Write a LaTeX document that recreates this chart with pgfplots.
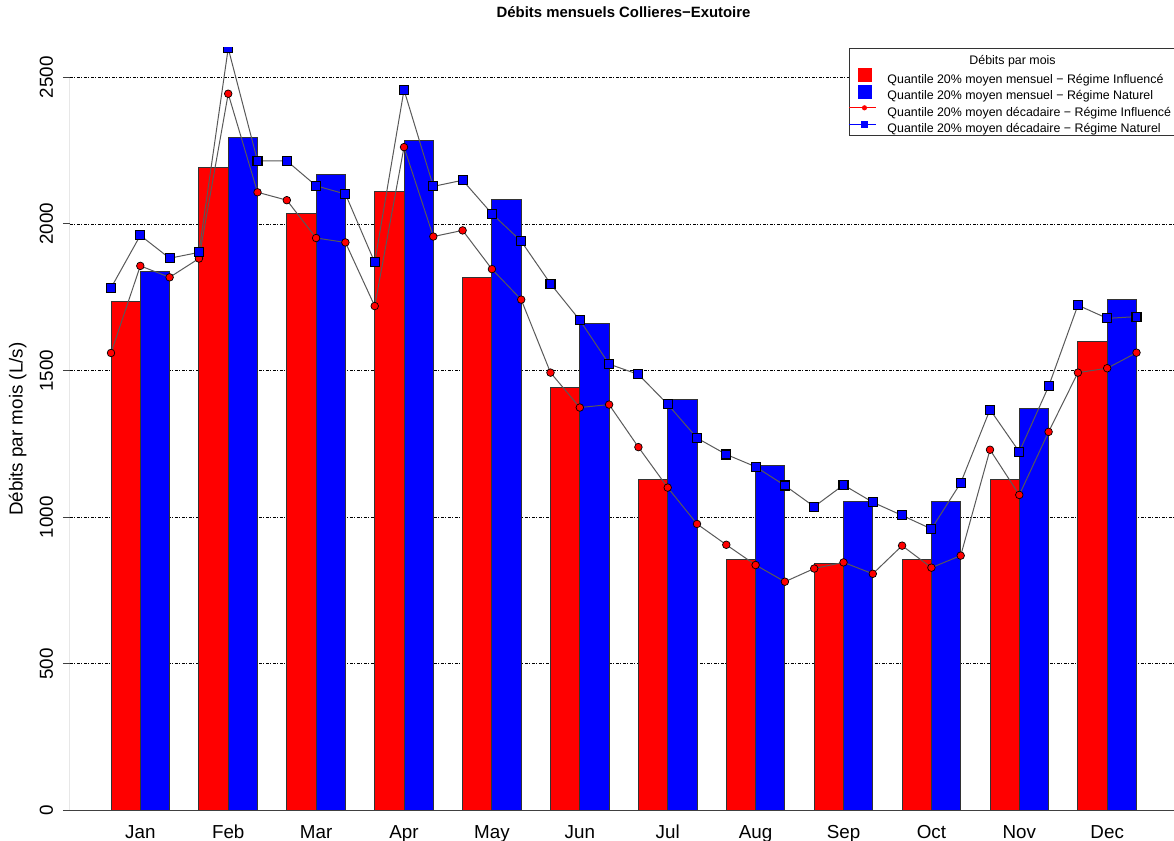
\documentclass[border=0pt]{standalone}
\usepackage{fontspec}
\setmainfont{Liberation Sans}
\usepackage{pgfplots}
\usepackage{pgfplotstable}
\pgfplotsset{compat=1.18}

\pgfplotstableread{
x y
1.5 1737
4.5 2192
7.5 2034
10.5 2109
13.5 1816
16.5 1443
19.5 1127
22.5 856
25.5 843
28.5 856
31.5 1127
34.5 1599
}\monthinf
\pgfplotstableread{
x y
2.5 1838
5.5 2295
8.5 2170
11.5 2286
14.5 2083
17.5 1662
20.5 1402
23.5 1177
26.5 1053
29.5 1053
32.5 1372
35.5 1744
}\monthnat
\pgfplotstableread{
x y
1 1560
2 1857
3 1818
4 1882
5 2444
6 2108
7 2081
8 1952
9 1937
10 1720
11 2262
12 1957
13 1978
14 1846
15 1742
16 1493
17 1374
18 1384
19 1239
20 1101
21 977
22 906
23 837
24 780
25 825
26 846
27 807
28 903
29 828
30 869
31 1230
32 1076
33 1291
34 1493
35 1508
36 1561
}\decinf
\pgfplotstableread{
x y
1 1782
2 1961
3 1883
4 1903
5 2599
6 2215
7 2215
8 2130
9 2102
10 1869
11 2457
12 2128
13 2149
14 2035
15 1941
16 1796
17 1672
18 1522
19 1487
20 1385
21 1270
22 1214
23 1172
24 1108
25 1036
26 1110
27 1051
28 1006
29 960
30 1117
31 1367
32 1223
33 1446
34 1723
35 1678
36 1684
}\decnat

\begin{document}
\begin{tikzpicture}
\begin{axis}[
  scale only axis, width=1104pt, height=762.5pt,
  xmin=-0.4, xmax=37.28, ymin=0, ymax=2600,
  axis lines*=left, axis line style={draw=none},
  clip marker paths=true,
  xtick={2,5,...,35},
  xticklabels={Jan,Feb,Mar,Apr,May,Jun,Jul,Aug,Sep,Oct,Nov,Dec},
  xtick style={draw=none},
  ytick={0,500,...,2500},
  ytick style={draw=black!75, line width=1pt},
  tick align=outside, major tick length=7pt,
  ymajorgrids,
  grid style={black, line width=0.8pt, dash pattern=on 3pt off 1.5pt on 1pt off 1.5pt},
  /pgf/number format/1000 sep={},
  /pgf/number format/assume math mode=true,
  tick label style={font=\fontsize{18.8}{20}\selectfont},
  yticklabel style={xshift=-10pt, rotate=90, anchor=base, inner sep=0pt},
  xticklabel style={anchor=base, inner sep=0pt, yshift=-21pt},
  title={Débits mensuels Collieres−Exutoire},
  title style={at={(axis description cs:0.5014,1)}, anchor=base, yshift=24pt, inner sep=0pt, font=\bfseries\fontsize{14.9}{16}\selectfont},
  ylabel={Débits par mois (L/s)},
  every axis y label/.style={at={(axis description cs:-0.04284,0.5)}, rotate=90, anchor=base, inner sep=0pt, font=\fontsize{18.8}{20}\selectfont},
  legend style={at={(axis description cs:0.7056,1)}, anchor=north west, draw=black!80, line width=1pt,
    font=\fontsize{12.4}{14}\selectfont, inner xsep=0pt, inner ysep=1.5pt, row sep=0pt, column sep=11pt,
    nodes={inner sep=0pt}},
  legend cell align=left,
]
\addplot[ybar, bar width=1, bar shift=0pt, fill=red, draw=black!80, line width=1pt, forget plot] table[x=x,y=y] {\monthinf};
\addplot[ybar, bar width=1, bar shift=0pt, fill=blue, draw=black!80, line width=1pt, forget plot] table[x=x,y=y] {\monthnat};
\addplot[black!65, line width=1pt, mark=*, mark size=3.8pt, mark options={fill=red, draw=black, line width=0.7pt, solid}, forget plot] table[x=x,y=y] {\decinf};
\addplot[black!65, line width=1pt, mark=square*, mark size=4.5pt, mark options={fill=blue, draw=black, line width=1.1pt, solid}, forget plot] table[x=x,y=y] {\decnat};
\draw[black!75, line width=1pt] (axis cs:-0.4,0) -- (axis cs:-0.4,2500);
\draw[black!75, line width=1pt] (axis cs:-0.4,0) -- (axis cs:37.28,0);
\coordinate (SW) at (rel axis cs:0,0);
\coordinate (NE) at (rel axis cs:1,1);
\addlegendimage{legend image code/.code={\path[draw=none,fill=none] (0pt,-7.7pt) rectangle (27pt,11pt);}}
\addlegendentry{\hspace*{82pt}Débits par mois}
\addlegendimage{legend image code/.code={\path[draw=none,fill=none] (0pt,-4.2pt) rectangle (27pt,11pt); \fill[red, draw=none, overlay] (9pt,-2.5pt) rectangle (23pt,11.5pt);}}
\addlegendentry{Quantile 20\% moyen mensuel − Régime Influencé}
\addlegendimage{legend image code/.code={\path[draw=none,fill=none] (0pt,-4.2pt) rectangle (27pt,11pt); \fill[blue, draw=none, overlay] (9pt,-2.5pt) rectangle (23pt,11.5pt);}}
\addlegendentry{Quantile 20\% moyen mensuel − Régime Naturel}
\addlegendimage{legend image code/.code={\path[draw=none,fill=none] (0pt,-4.2pt) rectangle (27pt,11pt); \draw[red, line width=1pt, overlay] (0pt,4.5pt) -- (27pt,4.5pt); \fill[red, draw=none, overlay] (15pt,4.5pt) circle (2.6pt);}}
\addlegendentry{Quantile 20\% moyen décadaire − Régime Influencé\hspace*{8pt}}
\addlegendimage{legend image code/.code={\path[draw=none,fill=none] (0pt,-4.2pt) rectangle (27pt,11pt); \draw[blue, line width=1pt, overlay] (0pt,4.5pt) -- (27pt,4.5pt); \fill[blue, draw=none, overlay] (11.5pt,1pt) rectangle (18.5pt,8pt);}}
\addlegendentry{Quantile 20\% moyen décadaire − Régime Naturel}
\end{axis}
\pgfresetboundingbox
\path[use as bounding box] ([shift={(-70pt,-30.5pt)}]SW) rectangle ([shift={(0pt,48pt)}]NE);
\end{tikzpicture}
\end{document}
